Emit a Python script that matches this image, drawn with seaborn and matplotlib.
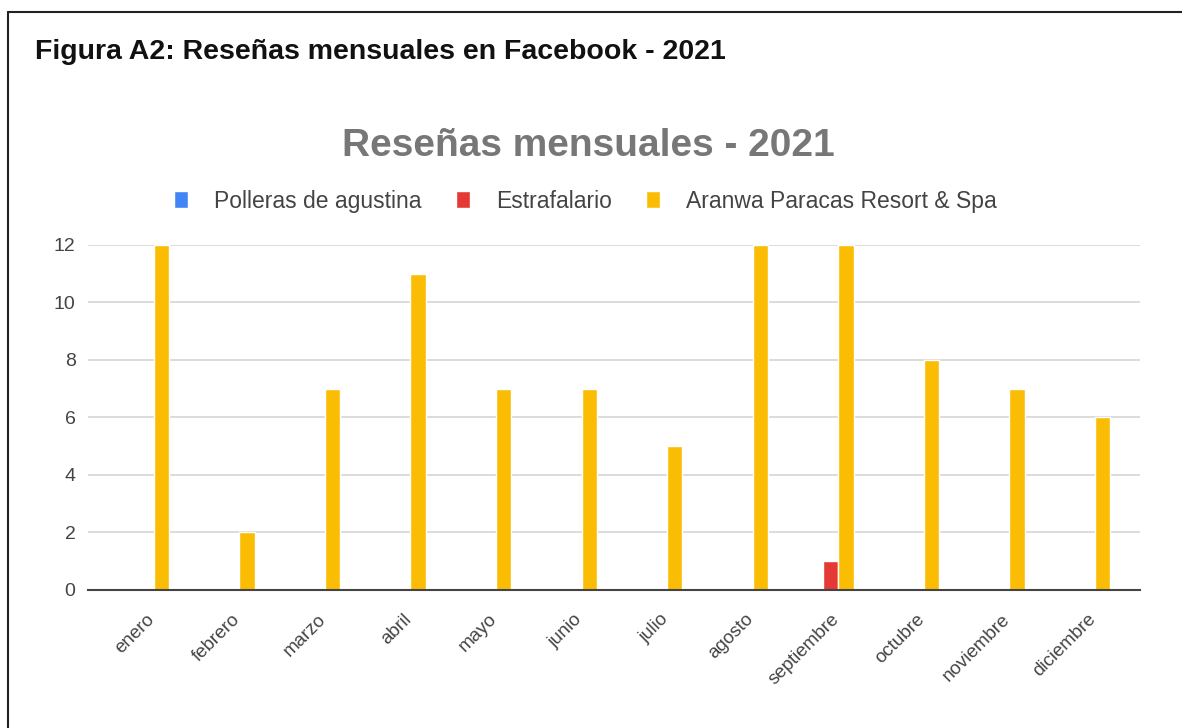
import matplotlib
matplotlib.use("Agg")
import matplotlib.pyplot as plt
from matplotlib.lines import Line2D
import seaborn as sns
import pandas as pd

meses = ["enero", "febrero", "marzo", "abril", "mayo", "junio", "julio",
         "agosto", "septiembre", "octubre", "noviembre", "diciembre"]
series = ["Polleras de agustina", "Estrafalario", "Aranwa Paracas Resort & Spa"]
polleras = [0, 0, 0, 0, 0, 0, 0, 0, 0, 0, 0, 0]
estrafalario = [0, 0, 0, 0, 0, 0, 0, 0, 1, 0, 0, 0]
aranwa = [12, 2, 7, 11, 7, 7, 5, 12, 12, 8, 7, 6]
colores = ["#4285F4", "#E53935", "#FBBC04"]
yticks = [0, 2, 4, 6, 8, 10, 12]

rows = []
for nombre, vals in zip(series, [polleras, estrafalario, aranwa]):
    for m, v in zip(meses, vals):
        rows.append({"mes": m, "serie": nombre, "valor": v})
df = pd.DataFrame(rows)

sns.set_theme(style="white")
plt.rcParams["font.family"] = ["Liberation Sans", "DejaVu Sans"]

fig = plt.figure(figsize=(11.82, 7.28), dpi=100)
ax = fig.add_axes([0.0745, 0.1896, 0.89, 0.4739])

sns.barplot(data=df, x="mes", y="valor", hue="serie", order=meses,
            hue_order=series, palette=colores, width=0.54, saturation=1,
            ax=ax, errorbar=None)

ax.set_ylim(0, 12)
ax.set_xlim(-0.68, 11.62)
ax.set_yticks(yticks)
ax.set_yticklabels([str(t) for t in yticks], fontsize=14, color="#444444")
ax.yaxis.grid(True, color="#d6d6d6", linewidth=1.2)
ax.set_axisbelow(True)
for s in ["top", "right", "left"]:
    ax.spines[s].set_visible(False)
ax.spines["bottom"].set_color("#444444")
ax.spines["bottom"].set_linewidth(1.5)
ax.set_xlabel("")
ax.set_ylabel("")
ax.tick_params(axis="y", length=0, pad=9)
ax.tick_params(axis="x", length=0, pad=15)
plt.setp(ax.get_xticklabels(), rotation=45, ha="right", rotation_mode="anchor",
         fontsize=13.5, color="#444444")

sns.move_legend(ax, "lower center", bbox_to_anchor=(0.473, 1.034), ncol=3,
                frameon=False, title=None, fontsize=16.5,
                handlelength=0.6, handleheight=0.8, columnspacing=1.5,
                handletextpad=1.15, labelcolor="#444444")

fig.text(0.4975, 0.80, "Reseñas mensuales - 2021", ha="center", va="center",
         fontsize=28, fontweight="bold", color="#777777")
fig.text(0.030, 0.928, "Figura A2: Reseñas mensuales en Facebook - 2021",
         ha="left", va="center", fontsize=20.5, fontweight="bold", color="#111111")

# outer frame (top and left visible)
W, H = 1182, 728
fig.add_artist(Line2D([8 / W, 1.0], [1 - 12 / H, 1 - 12 / H],
                      transform=fig.transFigure, color="#222222", linewidth=1.5))
fig.add_artist(Line2D([8 / W, 8 / W], [0.0, 1 - 12 / H],
                      transform=fig.transFigure, color="#222222", linewidth=1.5))

fig.savefig("out.png", dpi=100)
